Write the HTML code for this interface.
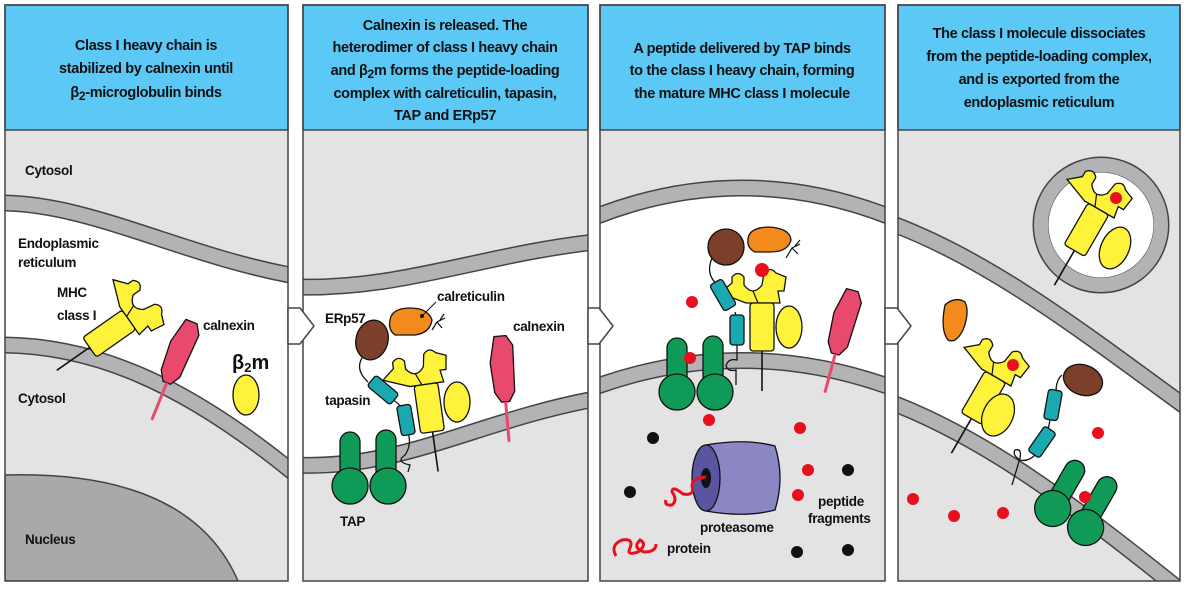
<!DOCTYPE html>
<html><head><meta charset="utf-8"><style>
html,body{margin:0;padding:0;background:#fff}
svg{display:block}
text{font-family:"Liberation Sans Narrow","Liberation Sans",sans-serif;font-weight:bold;fill:#111}
.h{font-size:14.5px;text-anchor:middle;letter-spacing:-0.35px}
.l{font-size:13.5px;letter-spacing:-0.3px}
.mem{fill:none;stroke:#444;stroke-width:17}
.mem2{fill:none;stroke:#b3b3b6;stroke-width:14}
.y{fill:#fff23a;stroke:#111;stroke-width:1.3}
.o{stroke:#111;stroke-width:1.3}
</style></head><body>
<svg width="1186" height="591" viewBox="0 0 1186 591" xmlns="http://www.w3.org/2000/svg">
<defs>
<clipPath id="c1"><rect x="5" y="5" width="283" height="576"/></clipPath>
<clipPath id="c2"><rect x="303" y="5" width="285" height="576"/></clipPath>
<clipPath id="c3"><rect x="600" y="5" width="285" height="576"/></clipPath>
<clipPath id="c4"><rect x="898" y="5" width="282" height="576"/></clipPath>
<g id="hc">
  <line x1="12" y1="48" x2="12" y2="88" stroke="#111" stroke-width="1.6"/>
  <path class="y" d="M-30,-10 L-18,-20 L-18,-26 Q-12,-33 -6,-26 L-6,-18 Q3,-6 12,-18 L14,-30 Q20,-37 26,-30 L36,-26 L34,-12 L28,-12 L30,0 L-4,0 Z"/>
  <line x1="3" y1="-12" x2="8" y2="0" stroke="#111" stroke-width="1.2"/>
  <rect class="y" x="0" y="0" width="24" height="48" rx="3"/>
</g>
<g id="tap">
  <rect x="-30" y="-50" width="20" height="50" rx="10" fill="#0f9b57" class="o"/>
  <rect x="6" y="-52" width="20" height="50" rx="10" fill="#0f9b57" class="o"/>
  <circle cx="-20" cy="4" r="18" fill="#0f9b57" class="o"/>
  <circle cx="18" cy="4" r="18" fill="#0f9b57" class="o"/>
</g>
<g id="cnx">
  <path d="M-6,-36 L6,-36 L12,-26 L10,20 L4,30 L-4,30 L-10,20 L-12,-10 Z" fill="#e8496d" class="o"/>
  <line x1="0" y1="30" x2="0" y2="70" stroke="#e8496d" stroke-width="3"/>
</g>
</defs>

<rect x="5" y="5" width="283" height="576" fill="#e3e3e4"/>
<rect x="303" y="5" width="285" height="576" fill="#e3e3e4"/>
<rect x="600" y="5" width="285" height="576" fill="#e3e3e4"/>
<rect x="898" y="5" width="282" height="576" fill="#e3e3e4"/>

<g clip-path="url(#c1)">
<path d="M5,203 C90,203 180,255 288,275 L288,468 C180,380 90,345 5,345 Z" fill="#fff"/>
<path d="M5,475 Q190,470 238,581 L5,581 Z" fill="#a9a9ab" stroke="#444" stroke-width="1.5"/>
<path class="mem" d="M0,203 C90,203 180,255 295,276"/><path class="mem2" d="M0,203 C90,203 180,255 295,276"/>
<path class="mem" d="M0,345 C90,345 180,380 295,474"/><path class="mem2" d="M0,345 C90,345 180,380 295,474"/>
</g>
<g clip-path="url(#c2)">
<path d="M303,287 C400,290 480,255 588,243 L588,400 C480,420 400,470 303,465 Z" fill="#fff"/>
<path class="mem" d="M296,287 C400,290 480,255 595,242"/><path class="mem2" d="M296,287 C400,290 480,255 595,242"/>
<path class="mem" d="M296,465 C400,470 480,420 595,399"/><path class="mem2" d="M296,465 C400,470 480,420 595,399"/>
</g>
<g clip-path="url(#c3)">
<path d="M600,215 Q742,160 885,215 L885,385 Q742,335 600,385 Z" fill="#fff"/>
<path class="mem" d="M592,218 Q742,158 893,218"/><path class="mem2" d="M592,218 Q742,158 893,218"/>
<path class="mem" d="M592,388 Q742,333 893,388"/><path class="mem2" d="M592,388 Q742,333 893,388"/>
</g>
<g clip-path="url(#c4)">
<path d="M898,226 C990,260 1080,330 1180,402 L1180,590 C1080,510 990,440 898,405 Z" fill="#fff"/>
<path class="mem" d="M890,223 C990,260 1080,330 1190,410"/><path class="mem2" d="M890,223 C990,260 1080,330 1190,410"/>
<path class="mem" d="M890,402 C990,440 1080,510 1190,598"/><path class="mem2" d="M890,402 C990,440 1080,510 1190,598"/>
<circle cx="1101" cy="225" r="60" fill="none" stroke="#444" stroke-width="17"/>
<circle cx="1101" cy="225" r="60" fill="none" stroke="#b3b3b6" stroke-width="14"/>
<circle cx="1101" cy="225" r="52.5" fill="#fff"/>
</g>

<rect x="5" y="5" width="283" height="125" fill="#5bc8f5" stroke="#444" stroke-width="1.5"/>
<rect x="303" y="5" width="285" height="125" fill="#5bc8f5" stroke="#444" stroke-width="1.5"/>
<rect x="600" y="5" width="285" height="125" fill="#5bc8f5" stroke="#444" stroke-width="1.5"/>
<rect x="898" y="5" width="282" height="125" fill="#5bc8f5" stroke="#444" stroke-width="1.5"/>
<text class="h" x="146" y="50">Class I heavy chain is</text>
<text class="h" x="146" y="73">stabilized by calnexin until</text>
<text class="h" x="146" y="97">β<tspan font-size="12" dy="3">2</tspan><tspan dy="-3">-microglobulin binds</tspan></text>
<text class="h" x="445" y="30">Calnexin is released. The</text>
<text class="h" x="445" y="52">heterodimer of class I heavy chain</text>
<text class="h" x="445" y="75">and β<tspan font-size="12" dy="3">2</tspan><tspan dy="-3">m forms the peptide-loading</tspan></text>
<text class="h" x="445" y="98">complex with calreticulin, tapasin,</text>
<text class="h" x="445" y="120">TAP and ERp57</text>
<text class="h" x="742" y="53">A peptide delivered by TAP binds</text>
<text class="h" x="742" y="75">to the class I heavy chain, forming</text>
<text class="h" x="742" y="98">the mature MHC class I molecule</text>
<text class="h" x="1039" y="38">The class I molecule dissociates</text>
<text class="h" x="1039" y="61">from the peptide-loading complex,</text>
<text class="h" x="1039" y="84">and is exported from the</text>
<text class="h" x="1039" y="107">endoplasmic reticulum</text>

<!-- Panel 1 -->
<use href="#hc" transform="translate(122,310) rotate(55)"/>
<use href="#cnx" transform="translate(178,355) rotate(22)"/>
<ellipse class="y" cx="246" cy="395" rx="13" ry="20"/>
<text class="l" x="25" y="175">Cytosol</text>
<text class="l" x="18" y="248">Endoplasmic</text>
<text class="l" x="18" y="267">reticulum</text>
<text class="l" x="57" y="297">MHC</text>
<text class="l" x="57" y="320">class I</text>
<text class="l" x="203" y="330">calnexin</text>
<text x="232" y="369" style="font-size:20px">β<tspan font-size="13" dy="3">2</tspan><tspan dy="-3">m</tspan></text>
<text class="l" x="18" y="403">Cytosol</text>
<text class="l" x="25" y="544">Nucleus</text>

<!-- Panel 2 -->
<path d="M362,358 Q355,370 368,382" fill="none" stroke="#111" stroke-width="1.3"/>
<path d="M390,398 Q402,405 404,412 M408,432 Q412,445 405,455 Q395,462 410,465 L408,472" fill="none" stroke="#111" stroke-width="1.3"/>
<use href="#hc" transform="translate(414,386) rotate(-8)"/>
<ellipse class="y" cx="457" cy="402" rx="13" ry="20"/>
<ellipse cx="372" cy="340" rx="16" ry="20" transform="rotate(15 372 340)" fill="#7b3f2a" class="o"/>
<path d="M390,320 Q392,308 410,308 Q428,308 432,320 Q430,333 415,335 L395,335 Q388,330 390,320 Z" fill="#f28a1c" class="o"/>
<circle cx="422" cy="316" r="2" fill="#111"/>
<line x1="422" y1="316" x2="436" y2="302" stroke="#111" stroke-width="1"/>
<path d="M432,330 L437,322 L445,318 M437,322 L442,328 M440,320 L444,314" stroke="#111" stroke-width="1.2" fill="none"/>
<rect x="368" y="383" width="30" height="14" rx="3" transform="rotate(40 383 390)" fill="#1aa9b0" class="o"/>
<rect x="399" y="405" width="14" height="30" rx="3" transform="rotate(-10 406 420)" fill="#1aa9b0" class="o"/>
<use href="#tap" transform="translate(370,482)"/>
<use href="#cnx" transform="translate(503,372) rotate(-5)"/>
<text class="l" x="437" y="301">calreticulin</text>
<text class="l" x="325" y="323">ERp57</text>
<text class="l" x="513" y="331">calnexin</text>
<text class="l" x="325" y="405">tapasin</text>
<text class="l" x="340" y="526">TAP</text>

<!-- Panel 3 -->
<path d="M712,258 Q705,275 718,285 M735,312 L737,320 M737,345 L737,360 Q728,358 726,366 Q728,372 736,370 L736,385" fill="none" stroke="#111" stroke-width="1.3"/>
<use href="#hc" transform="translate(750,303)"/>
<ellipse class="y" cx="789" cy="327" rx="13" ry="21"/>
<ellipse cx="726" cy="247" rx="18" ry="18" fill="#7b3f2a" class="o"/>
<path d="M748,240 Q748,228 768,227 Q790,228 791,240 Q788,252 770,252 L755,252 Q747,248 748,240 Z" fill="#f28a1c" class="o"/>
<path d="M786,258 L792,248 L800,244 M792,248 L798,254 M795,246 L800,240" stroke="#111" stroke-width="1.2" fill="none"/>
<circle cx="762" cy="270" r="7" fill="#e8101c"/>
<rect x="708" y="288" width="30" height="14" rx="3" transform="rotate(60 723 295)" fill="#1aa9b0" class="o"/>
<rect x="730" y="315" width="14" height="30" rx="3" fill="#1aa9b0" class="o"/>
<use href="#tap" transform="translate(697,388)"/>
<use href="#cnx" transform="translate(843,325) rotate(15)"/>
<g fill="#e8101c"><circle cx="692" cy="302" r="6"/><circle cx="690" cy="358" r="6"/><circle cx="709" cy="420" r="6"/><circle cx="800" cy="428" r="6"/><circle cx="808" cy="470" r="6"/><circle cx="798" cy="495" r="6"/></g>
<g fill="#111"><circle cx="653" cy="438" r="6"/><circle cx="630" cy="492" r="6"/><circle cx="848" cy="470" r="6"/><circle cx="797" cy="552" r="6"/><circle cx="848" cy="550" r="6"/></g>
<path d="M706,445 Q745,438 775,446 Q785,478 775,510 Q745,518 706,511 Z" fill="#8b86c4" class="o"/>
<ellipse cx="706" cy="478" rx="14" ry="33" fill="#5a55a0" class="o"/>
<ellipse cx="706" cy="478" rx="5" ry="10" fill="#111"/>
<path d="M706,477 Q692,478 692,486 Q695,496 683,494 Q672,485 672,492 Q678,500 672,505 Q664,506 666,500" fill="none" stroke="#e8101c" stroke-width="3"/>
<path d="M616,556 Q610,545 622,540 Q634,538 630,548 Q626,556 638,552 Q648,544 640,540 Q632,548 644,552 Q656,552 656,544" fill="none" stroke="#e8101c" stroke-width="3"/>
<text class="l" x="700" y="532">proteasome</text>
<text class="l" x="667" y="553">protein</text>
<text class="l" x="818" y="506">peptide</text>
<text class="l" x="808" y="523">fragments</text>

<!-- Panel 4 -->
<use href="#hc" transform="translate(1088,203) rotate(30)"/>
<ellipse class="y" cx="1115" cy="248" rx="14" ry="22" transform="rotate(25 1115 248)"/>
<circle cx="1116" cy="198" r="6" fill="#e8101c"/>
<path d="M945,305 Q955,296 965,302 Q970,312 963,330 Q956,344 948,340 Q940,330 945,305 Z" fill="#f28a1c" class="o"/>
<use href="#hc" transform="translate(985,371) rotate(30)"/>
<ellipse class="y" cx="998" cy="415" rx="15" ry="22" transform="rotate(25 998 415)"/>
<circle cx="1013" cy="365" r="6" fill="#e8101c"/>
<path d="M1062,375 Q1056,380 1056,392 M1050,420 L1048,430 M1035,455 Q1028,462 1020,460 Q1012,455 1015,450 Q1022,448 1020,458 L1012,485" fill="none" stroke="#111" stroke-width="1.3"/>
<ellipse cx="1083" cy="380" rx="20" ry="15" transform="rotate(20 1083 380)" fill="#7b3f2a" class="o"/>
<rect x="1046" y="390" width="14" height="30" rx="3" transform="rotate(10 1053 405)" fill="#1aa9b0" class="o"/>
<rect x="1035" y="427" width="14" height="30" rx="3" transform="rotate(35 1042 442)" fill="#1aa9b0" class="o"/>
<use href="#tap" transform="translate(1072,515) rotate(30)"/>
<g fill="#e8101c"><circle cx="1098" cy="433" r="6"/><circle cx="913" cy="499" r="6"/><circle cx="954" cy="516" r="6"/><circle cx="1003" cy="513" r="6"/><circle cx="1085" cy="497" r="6"/></g>

<g fill="none" stroke="#444" stroke-width="1.5">
<rect x="5" y="5" width="283" height="576"/>
<rect x="303" y="5" width="285" height="576"/>
<rect x="600" y="5" width="285" height="576"/>
<rect x="898" y="5" width="282" height="576"/>
</g>
<g fill="#fff" stroke="#444" stroke-width="1.5">
<polygon points="288,308 300,308 314,326 300,344 288,344"/>
<polygon points="588,308 599,308 613,326 599,344 588,344"/>
<polygon points="885,308 897,308 911,326 897,344 885,344"/>
</g>
</svg>
</body></html>
